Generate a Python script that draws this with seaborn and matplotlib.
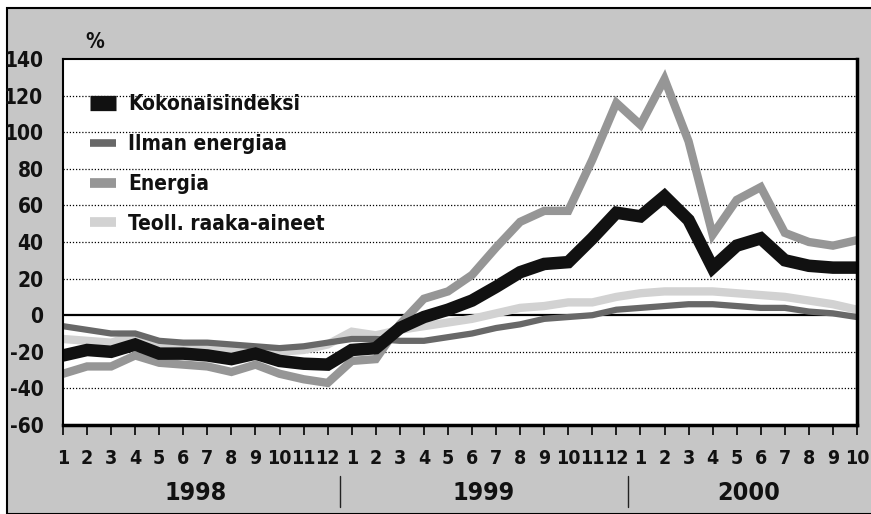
import matplotlib
matplotlib.use("Agg")
import matplotlib.pyplot as plt
import matplotlib.transforms as mtransforms
from matplotlib import font_manager
from matplotlib.patches import Rectangle
from matplotlib.lines import Line2D
import numpy as np
import pandas as pd
import seaborn as sns

# kuukaudet 1/1998 - 10/2000
month_labels = [str(m) for m in range(1, 13)] * 2 + [str(m) for m in range(1, 11)]
years = ["1998", "1999", "2000"]
year_lengths = [12, 12, 10]

kokonais = [-22, -19, -20, -16, -21, -21, -22, -24, -21, -25, -26.5, -27,
            -19, -18, -7, -1, 3, 8, 15.5, 23.5, 28, 29, 42, 56,
            54, 65, 52, 26, 38, 42, 30, 27, 26, 26]
ilman_energiaa = [-6, -8, -10, -10, -14, -15, -15, -16, -17, -18, -17, -15,
                  -13, -13, -14, -14, -12, -10, -7, -5, -2, -1, 0, 3,
                  4, 5, 6, 6, 5, 4, 4, 2, 1, -1]
energia = [-32, -28, -28, -22, -26, -27, -28, -31, -27, -32, -35, -37,
           -25, -24, -5, 9, 13, 22, 37, 51, 57, 57, 85, 116,
           104, 129, 95, 44, 63, 70, 45, 40, 38, 41]
teoll = [-13, -14, -15, -11, -17, -18, -18, -19, -18, -20, -19, -16,
         -9, -11, -8, -6, -4, -2, 1, 4, 5, 7, 7, 10,
         12, 13, 13, 13, 12, 11, 10, 8, 6, 3]

series_names = ["Kokonaisindeksi", "Ilman energiaa", "Energia", "Teoll. raaka-aineet"]
series_values = [kokonais, ilman_energiaa, energia, teoll]

x = np.arange(len(month_labels))
df = pd.DataFrame({"t": np.tile(x, 4),
                   "arvo": np.concatenate(series_values),
                   "sarja": np.repeat(series_names, len(x))})

# kapea fontti jos sellainen löytyy, muuten Roboto
font = "Roboto"
stretch = "normal"
for f in font_manager.fontManager.ttflist:
    if f.stretch in ("condensed", "semi-condensed", "extra-condensed") or \
            "Condensed" in f.name or "Narrow" in f.name:
        font = f.name
        stretch = f.stretch
        break

sns.set_theme(style="white")
plt.rcParams["font.family"] = [font, "DejaVu Sans"]
plt.rcParams["font.stretch"] = stretch
plt.rcParams["font.weight"] = "bold"

bg = "#c6c6c6"
styles = {
    "Kokonaisindeksi": ("#111111", 9.0),
    "Ilman energiaa": ("#686868", 4.5),
    "Energia": ("#969696", 6.0),
    "Teoll. raaka-aineet": ("#d2d2d2", 6.0),
}

fig = plt.figure(figsize=(8.71, 5.14), dpi=100)
fig.patch.set_facecolor("white")
fig.patches.append(Rectangle((7 / 871, 0), 1, 1 - 8 / 514, transform=fig.transFigure,
                             facecolor=bg, edgecolor="black", linewidth=1.5, zorder=-10))

ax = fig.add_axes([63 / 871, 1 - 425 / 514, (857 - 63) / 871, (425 - 59) / 514])
ax.set_facecolor("white")

for name in ["Teoll. raaka-aineet", "Energia", "Ilman energiaa", "Kokonaisindeksi"]:
    col, lw = styles[name]
    sns.lineplot(data=df[df["sarja"] == name], x="t", y="arvo", color=col,
                 linewidth=lw, ax=ax, legend=False, solid_joinstyle="miter")

ax.set_xlim(0, len(x) - 1)
ax.set_ylim(-60, 140)
ax.set_yticks(range(-60, 141, 20))
ax.set_yticklabels([str(v) for v in range(-60, 141, 20)])
for v in range(-40, 140, 20):
    if v == 0:
        ax.axhline(0, color="black", linewidth=1.6, zorder=1)
    else:
        ax.axhline(v, color="black", linewidth=0.9, linestyle=(0, (1, 1.5)), zorder=0)

ax.set_xticks(x)
ax.set_xticklabels(month_labels)
ax.tick_params(axis="x", direction="out", length=7, width=1.2, color="black",
               pad=10, labelsize=14, bottom=True)
ax.tick_params(axis="y", length=0, pad=14, labelsize=15)
for lab in ax.get_xticklabels() + ax.get_yticklabels():
    lab.set_fontweight("bold")
    lab.set_color("#111111")
ax.set_xlabel("")
ax.set_ylabel("")

for side, lw in [("top", 1.5), ("left", 1.5), ("right", 2.5), ("bottom", 2.5)]:
    ax.spines[side].set_visible(True)
    ax.spines[side].set_color("black")
    ax.spines[side].set_linewidth(lw)

ax.text(0.04, 1.02, "%", transform=ax.transAxes, fontsize=15,
        fontweight="bold", ha="center", va="bottom", color="#111111")

# vuodet ja erottimet
trans = mtransforms.blended_transform_factory(ax.transData, ax.transAxes)
start = 0
for yr, n in zip(years, year_lengths):
    mid = start + (n - 1) / 2
    ax.text(mid, -0.185, yr, transform=trans, ha="center", va="center",
            fontsize=18, fontweight="bold", color="#111111")
    if start > 0:
        ax.plot([start - 0.5, start - 0.5], [-0.14, -0.225], transform=trans,
                color="#222222", linewidth=1.0, clip_on=False)
    start += n

handles = [Line2D([0], [0], color=styles[n][0], linewidth=styles[n][1] + (2 if n == "Kokonaisindeksi" else 1),
                  solid_capstyle="butt") for n in series_names]
leg = ax.legend(handles, series_names, loc="upper left", bbox_to_anchor=(0.01, 0.955),
                frameon=False, fontsize=15, handlelength=1.25, handletextpad=0.6,
                labelspacing=0.95)
for t in leg.get_texts():
    t.set_fontweight("bold")
    t.set_color("#111111")

fig.savefig("out.png", dpi=100)
